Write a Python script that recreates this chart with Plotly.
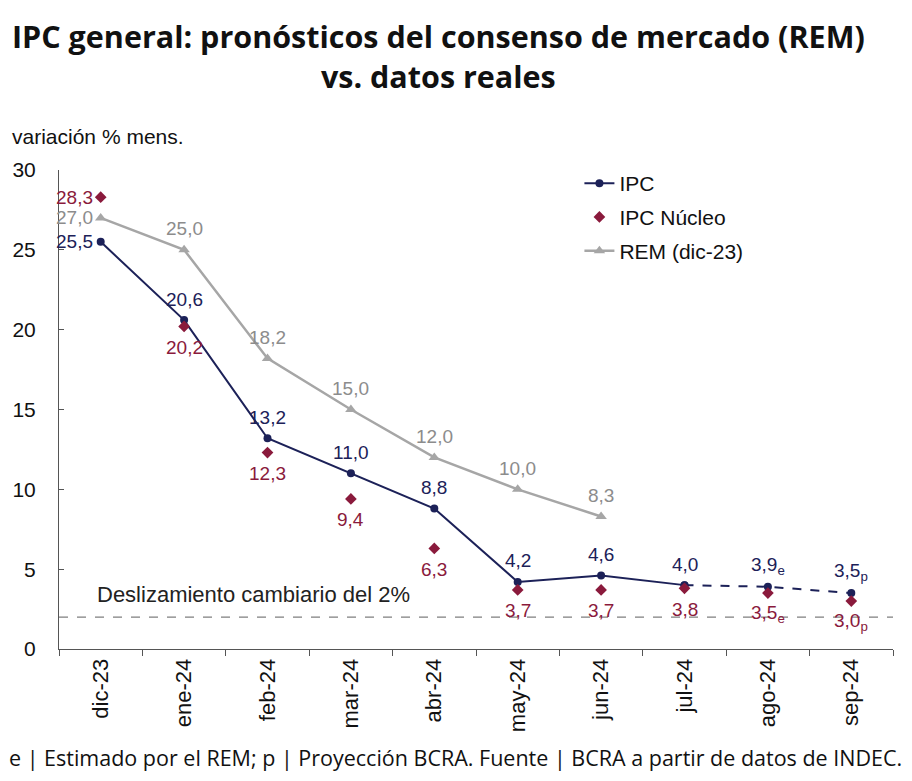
import plotly.graph_objects as go

categories = ["dic-23", "ene-24", "feb-24", "mar-24", "abr-24", "may-24", "jun-24", "jul-24", "ago-24", "sep-24"]
ipc = [25.5, 20.6, 13.2, 11.0, 8.8, 4.2, 4.6, 4.0, 3.9, 3.5]
ipc_labels = ["25,5", "20,6", "13,2", "11,0", "8,8", "4,2", "4,6", "4,0", "3,9<sub>e</sub>", "3,5<sub>p</sub>"]
nucleo = [28.3, 20.2, 12.3, 9.4, 6.3, 3.7, 3.7, 3.8, 3.5, 3.0]
nucleo_labels = ["28,3", "20,2", "12,3", "9,4", "6,3", "3,7", "3,7", "3,8", "3,5<sub>e</sub>", "3,0<sub>p</sub>"]
rem = [27.0, 25.0, 18.2, 15.0, 12.0, 10.0, 8.3]
rem_labels = ["27,0", "25,0", "18,2", "15,0", "12,0", "10,0", "8,3"]
deslizamiento = 2
n_solid = 8  # IPC observed up to jul-24

NAVY = "#1c2158"
MAROON = "#8a1a3c"
GREY = "#a6a6a6"
GREY_TXT = "#8c8c8c"
FONT = "Liberation Sans, Arial, sans-serif"
LBL = 19

fig = go.Figure()

fig.add_trace(go.Scatter(
    x=categories[:len(rem)], y=rem, name="REM (dic-23)", mode="lines+markers",
    line=dict(color=GREY, width=2.5),
    marker=dict(symbol="triangle-up", size=10, color=GREY),
    legendrank=3, legendgroup="rem", cliponaxis=False,
))
fig.add_trace(go.Scatter(
    x=categories[n_solid - 1:], y=ipc[n_solid - 1:], mode="lines+markers",
    line=dict(color=NAVY, width=2, dash="dash"),
    marker=dict(symbol="circle", size=8, color=NAVY),
    showlegend=False, hoverinfo="skip", cliponaxis=False,
))
fig.add_trace(go.Scatter(
    x=categories[:n_solid], y=ipc[:n_solid], name="IPC", mode="lines+markers",
    line=dict(color=NAVY, width=2),
    marker=dict(symbol="circle", size=8, color=NAVY),
    legendrank=1, legendgroup="ipc", cliponaxis=False,
))
fig.add_trace(go.Scatter(
    x=categories, y=nucleo, name="IPC Núcleo", mode="markers",
    marker=dict(symbol="diamond", size=9, color=MAROON),
    legendrank=2, legendgroup="nuc", cliponaxis=False,
))

def add_labels(xs, ys, texts, color, above):
    for i, (xv, yv, tv) in enumerate(zip(xs, ys, texts)):
        if i == 0:
            fig.add_annotation(x=xv, y=yv, text=tv, showarrow=False, xanchor="right", yanchor="middle",
                               xshift=-6, font=dict(size=LBL, color=color, family=FONT))
        else:
            fig.add_annotation(x=xv, y=yv, text=tv, showarrow=False, xanchor="center", yanchor="middle",
                               yshift=21 if above else -21, font=dict(size=LBL, color=color, family=FONT))

add_labels(categories, ipc, ipc_labels, NAVY, True)
add_labels(categories, nucleo, nucleo_labels, MAROON, False)
add_labels(categories, rem, rem_labels, GREY_TXT, True)

fig.add_shape(type="line", xref="paper", x0=0, x1=1, yref="y", y0=deslizamiento, y1=deslizamiento,
              line=dict(color="#7f7f7f", width=1.2, dash="dash"), layer="below")
fig.add_annotation(xref="paper", x=0.043, yref="y", y=deslizamiento, yanchor="middle", xanchor="left",
                   yshift=23, text="Deslizamiento cambiario del 2%", showarrow=False,
                   font=dict(size=22, color="#222222", family=FONT))

fig.add_annotation(xref="paper", yref="paper", x=-0.0588, y=1.069, xanchor="left", yanchor="middle",
                   text="variación % mens.", showarrow=False,
                   font=dict(size=21, color="#111111", family=FONT))

fig.add_annotation(xref="paper", yref="paper", x=0.4556, y=1.238, xanchor="center", yanchor="middle",
                   text="<b>IPC general: pronósticos del consenso de mercado (REM)<br>vs. datos reales</b>",
                   showarrow=False, font=dict(size=30.5, color="#111111", family="Open Sans, sans-serif"))

fig.add_annotation(xref="paper", yref="paper", x=0.476, y=-0.2255, xanchor="center", yanchor="middle",
                   text="e | Estimado por el REM; p | Proyección BCRA. Fuente | BCRA a partir de datos de INDEC.",
                   showarrow=False, font=dict(size=21.5, color="#111111", family="Open Sans, sans-serif"))

fig.update_layout(
    width=904, height=773,
    margin=dict(l=51, r=19, t=162, b=132, autoexpand=False),
    paper_bgcolor="white", plot_bgcolor="white",
    legend=dict(x=0.624, y=1.0146, xanchor="left", yanchor="top", bgcolor="rgba(0,0,0,0)",
                font=dict(size=21, color="#111111", family=FONT),
                itemwidth=30, tracegroupgap=3.5),
    showlegend=True,
)

fig.update_xaxes(
    type="category", categoryorder="array", categoryarray=categories,
    showline=True, linecolor="#555555", linewidth=1, automargin=False,
    ticks="outside", tickson="boundaries", ticklen=6, tickcolor="#555555",
    tickangle=-90, tickfont=dict(size=22, color="#111111", family=FONT),
    showgrid=False, range=[-0.5, 9.5],
)
fig.update_yaxes(
    range=[0, 30], dtick=5, showline=True, linecolor="#555555", linewidth=1, automargin=False,
    ticks="inside", ticklen=5, tickcolor="#555555", ticklabelstandoff=18,
    tickfont=dict(size=21, color="#111111", family=FONT),
    showgrid=False, zeroline=False,
)

fig.write_html("out.html")
